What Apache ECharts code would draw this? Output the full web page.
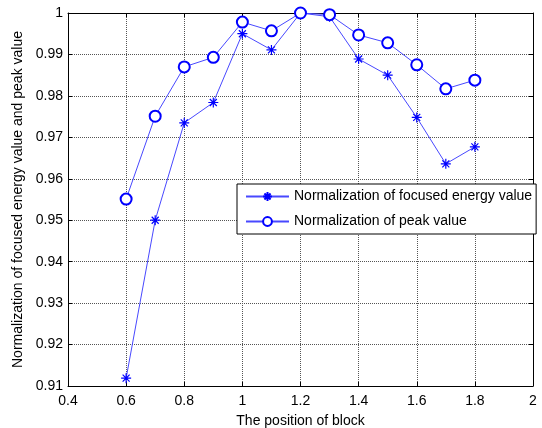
<!DOCTYPE html>
<html><head><meta charset="utf-8">
<script src="https://cdn.jsdelivr.net/npm/echarts@6/dist/echarts.min.js"></script>
<style>html,body{margin:0;padding:0;background:#fff}#c{width:542px;height:428px}</style>
</head><body><div id="c"></div>
<script>
const positions = [0.6,0.7,0.8,0.9,1.0,1.1,1.2,1.3,1.4,1.5,1.6,1.7,1.8];
const focusedEnergy = [0.9119,0.9500,0.9735,0.9784,0.9950,0.9911,1.0000,0.9991,0.9889,0.9850,0.9748,0.9636,0.9677];
const peakValue = [0.9551,0.9751,0.9870,0.9893,0.9978,0.9957,1.0000,0.9996,0.9947,0.9928,0.9875,0.9817,0.9838];
const seriesNames = ['Normalization of focused energy value','Normalization of peak value'];
const xName = 'The position of block';
const yName = 'Normalization of focused energy value and peak value';

const font = 'Arial, "Liberation Sans", sans-serif';
const blue = '#0000ff';
const lineBlue = '#4848ff';
const star = 'path://M0,5L10,5M5,0L5,10M1.5,1.5L8.5,8.5M8.5,1.5L1.5,8.5';
const pair = a => positions.map((x,i)=>[x,a[i]]);
const axisCommon = {
  axisLine:{show:true,onZero:false,lineStyle:{color:'#000',width:1}},
  axisTick:{show:true,inside:true,length:4,lineStyle:{color:'#000'}},
};
const chart = echarts.init(document.getElementById('c'),null,{renderer:'canvas'});
chart.setOption({
  animation:false,
  backgroundColor:'#fff',
  grid:{left:68,right:9,top:13,bottom:42,show:false,containLabel:false,outerBoundsMode:'none'},
  xAxis:[{
    type:'value',min:0.4,max:2,interval:0.2,position:'bottom',
    ...axisCommon,
    splitLine:{show:true,lineStyle:{type:'dotted',color:'#555',width:1}},
    axisLabel:{color:'#000',fontFamily:font,fontSize:14,margin:8,formatter:v=>String(+v.toFixed(1))},
    name:xName,nameLocation:'middle',nameGap:28,
    nameTextStyle:{color:'#000',fontFamily:font,fontSize:14}
  },{
    type:'value',min:0.4,max:2,interval:0.2,position:'top',
    ...axisCommon,splitLine:{show:false},axisLabel:{show:false}
  }],
  yAxis:[{
    type:'value',min:0.91,max:1,interval:0.01,position:'left',
    ...axisCommon,
    splitLine:{show:true,lineStyle:{type:'dotted',color:'#555',width:1}},
    axisLabel:{color:'#000',fontFamily:font,fontSize:14,margin:5,formatter:v=>String(+v.toFixed(2))},
    name:yName,nameLocation:'middle',nameGap:35,nameRotate:90,
    nameTextStyle:{color:'#000',fontFamily:font,fontSize:14}
  },{
    type:'value',min:0.91,max:1,interval:0.01,position:'right',
    ...axisCommon,splitLine:{show:false},axisLabel:{show:false}
  }],
  legend:{
    left:237,top:184,orient:'vertical',
    backgroundColor:'#fff',borderColor:'#000',borderWidth:1,borderRadius:0,
    padding:[5.5,4,5.5,8],itemGap:11,itemWidth:43,itemHeight:11,
    textStyle:{color:'#000',fontFamily:font,fontSize:14},
    data:seriesNames
  },
  series:[{
    name:seriesNames[0],type:'line',data:pair(focusedEnergy),
    symbol:star,symbolSize:10,showAllSymbol:true,
    lineStyle:{color:lineBlue,width:1},
    itemStyle:{color:'transparent',borderColor:blue,borderWidth:1.2}
  },{
    name:seriesNames[1],type:'line',data:pair(peakValue),
    symbol:'emptyCircle',symbolSize:11,showAllSymbol:true,
    lineStyle:{color:lineBlue,width:1},
    itemStyle:{color:blue,borderColor:blue,borderWidth:1}
  }]
});
</script></body></html>
